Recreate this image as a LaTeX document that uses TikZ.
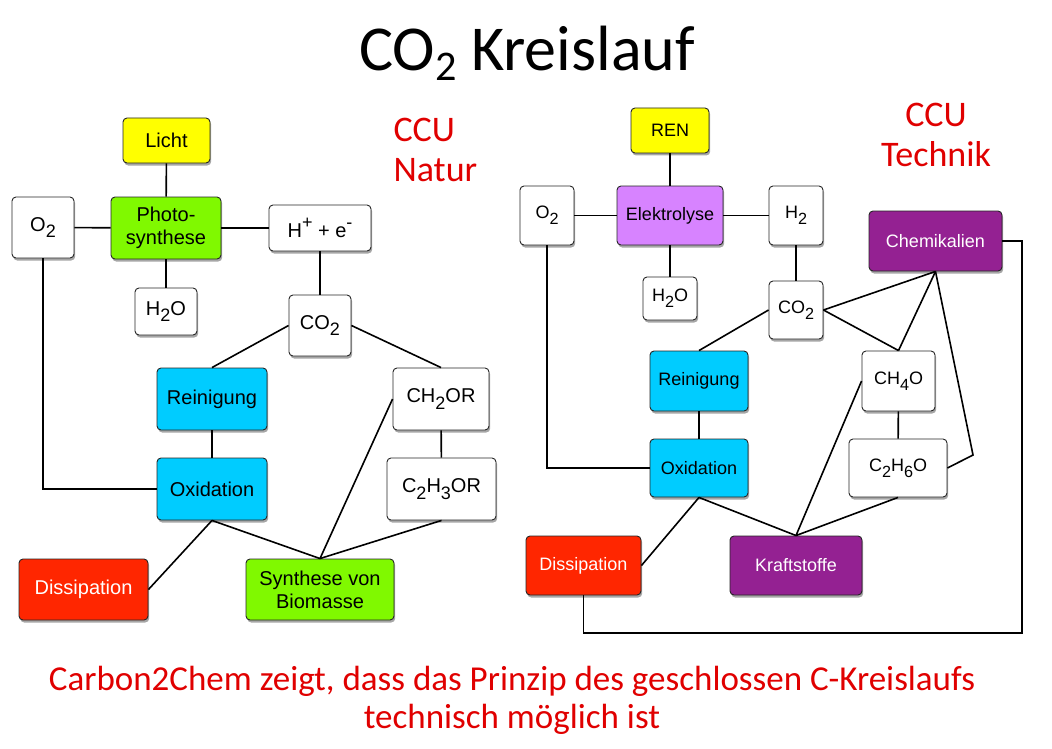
\documentclass[tikz,border=0pt]{standalone}
\usepackage{fontspec}
\setmainfont{Carlito}
\newfontfamily\boxfont{Liberation Sans}
\usetikzlibrary{shadows}
\definecolor{cyel}{HTML}{FFFF00}
\definecolor{cgrn}{HTML}{80F900}
\definecolor{ccyan}{HTML}{00CCFF}
\definecolor{cred}{HTML}{FF2600}
\definecolor{clil}{HTML}{D783FF}
\definecolor{cplum}{HTML}{942192}
\definecolor{ctxt}{HTML}{E00000}
\newcommand\lo[1]{\raisebox{-0.32em}{\scalebox{0.9}{#1}}}
\newcommand\hi[1]{\raisebox{0.42em}{\scalebox{0.9}{#1}}}
\tikzset{
  bx/.style={draw=black!85, line width=0.9pt, rounded corners=4pt, fill=white,
    inner sep=0pt, align=center, font=\boxfont\fontsize{20}{23}\selectfont,
    drop shadow={shadow xshift=1.2pt, shadow yshift=-2.5pt, opacity=0.35, fill=black}},
  sz/.style 2 args={minimum width=#1pt, minimum height=#2pt},
  rbx/.style={bx, font=\boxfont\fontsize{18}{21}\selectfont},
  wtxt/.style={text=white},
  con/.style={line width=1.6pt, black},
  red/.style={text=ctxt, font=\fontsize{36}{40}\selectfont}
}
\begin{document}
\begin{tikzpicture}[x=1pt, y=-1pt]
\useasboundingbox (0,0) rectangle (1052,749);
% title
\node[anchor=base, font=\fontsize{64}{70}\selectfont] (title) at (527,71) {CO\raisebox{-0.15em}{\scalebox{0.66}{2}} Kreislauf};
\node[red, anchor=base west, align=left] (natur) at (390,182) {CCU\\Natur};
\node[red, anchor=base, align=center] (technik) at (936,167) {CCU\\Technik};
\node[text=ctxt, font=\fontsize{35}{38}\selectfont, align=center, anchor=base] (bottom) at (512,728) {Carbon2Chem zeigt, dass das Prinzip des geschlossen C-Kreislaufs\\technisch möglich ist};

% left diagram
\node[bx, sz={87}{45}, fill=cyel] (licht) at (166.5,140.5) {Licht};
\node[bx, sz={62}{61}] (o2l) at (43,227.5) {O\lo{2}};
\node[bx, sz={110}{62}, fill=cgrn] (photo) at (166,228) {Photo-\\synthese};
\node[bx, sz={102}{46}] (hplus) at (320,228) {H\hi{+} + e\hi{-}};
\node[bx, sz={62}{47}] (h2ol) at (166,311.5) {H\lo{2}O};
\node[bx, sz={62}{61}] (co2l) at (320,325.5) {CO\lo{2}};
\node[bx, sz={110}{62}, fill=ccyan] (reinl) at (212,399) {Reinigung};
\node[bx, sz={110}{62}, fill=ccyan] (oxl) at (212,489) {Oxidation};
\node[bx, sz={96}{62}] (ch2or) at (441,399) {CH\lo{2}OR};
\node[bx, sz={109}{62}] (c2h3or) at (441.5,489) {C\lo{2}H\lo{3}OR};
\node[bx, sz={129}{61}, fill=cred, wtxt] (dissl) at (83.5,589.5) {Dissipation};
\node[bx, sz={148}{61}, fill=cgrn] (synth) at (320,589.5) {Synthese von\\Biomasse};

\draw[con] (licht) -- (photo);
\draw[con] (o2l) -- (photo);
\draw[con] (photo) -- (hplus);
\draw[con] (photo) -- (h2ol);
\draw[con] (hplus) -- (co2l);
\draw[con] (co2l.west) -- (reinl.north);
\draw[con] (co2l.east) -- (ch2or.north);
\draw[con] (reinl) -- (oxl);
\draw[con] (ch2or) -- (c2h3or);
\draw[con] (o2l.south) |- (oxl.west);
\draw[con] (oxl.south) -- (dissl.east);
\draw[con] (oxl.south) -- (synth.north);
\draw[con] (ch2or.west) -- (synth.north);
\draw[con] (c2h3or.south) -- (synth.north);

% right diagram
\node[rbx, sz={78}{45}, fill=cyel] (ren) at (670,130.5) {REN};
\node[rbx, sz={54}{59}] (o2r) at (547,215.5) {O\lo{2}};
\node[rbx, sz={106}{59}, fill=clil] (elek) at (670,215.5) {Elektrolyse};
\node[rbx, sz={54}{59}] (h2) at (796,215.5) {H\lo{2}};
\node[rbx, sz={54}{43}] (h2or) at (670,298.5) {H\lo{2}O};
\node[rbx, sz={54}{58}] (co2r) at (796,310) {CO\lo{2}};
\node[rbx, sz={133}{60}, fill=cplum, wtxt] (chem) at (935.5,241) {Chemikalien};
\node[rbx, sz={98}{60}, fill=ccyan] (reinr) at (699,381) {Reinigung};
\node[rbx, sz={98}{58}, fill=ccyan] (oxr) at (699,468) {Oxidation};
\node[rbx, sz={73}{60}] (ch4o) at (898.5,381) {CH\lo{4}O};
\node[rbx, sz={98}{58}] (c2h6o) at (898,468) {C\lo{2}H\lo{6}O};
\node[rbx, sz={115}{59}, fill=cred, wtxt] (dissr) at (583.5,565.5) {Dissipation};
\node[rbx, sz={132}{59}, fill=cplum, wtxt] (kraft) at (796,565.5) {Kraftstoffe};
\coordinate (loopr) at (1022,633);
\coordinate (kinkc) at (973,455);

\draw[con] (ren) -- (elek);
\draw[con] (o2r) -- (elek);
\draw[con] (elek) -- (h2);
\draw[con] (elek) -- (h2or);
\draw[con] (h2) -- (co2r);
\draw[con] (co2r.west) -- (reinr.north);
\draw[con] (co2r.east) -- (ch4o.north);
\draw[con] (co2r.east) -- (chem.south);
\draw[con] (chem.south) -- (ch4o.north);
\draw[con] (chem.south) -- (kinkc) -- (c2h6o.east);
\draw[con] (chem.east) -| (loopr) -| (dissr.south);
\draw[con] (reinr) -- (oxr);
\draw[con] (ch4o) -- (c2h6o);
\draw[con] (o2r.south) |- (oxr.west);
\draw[con] (oxr.south) -- (dissr.east);
\draw[con] (oxr.south) -- (kraft.north);
\draw[con] (ch4o.west) -- (kraft.north);
\draw[con] (c2h6o.south) -- (kraft.north);
\end{tikzpicture}
\end{document}
